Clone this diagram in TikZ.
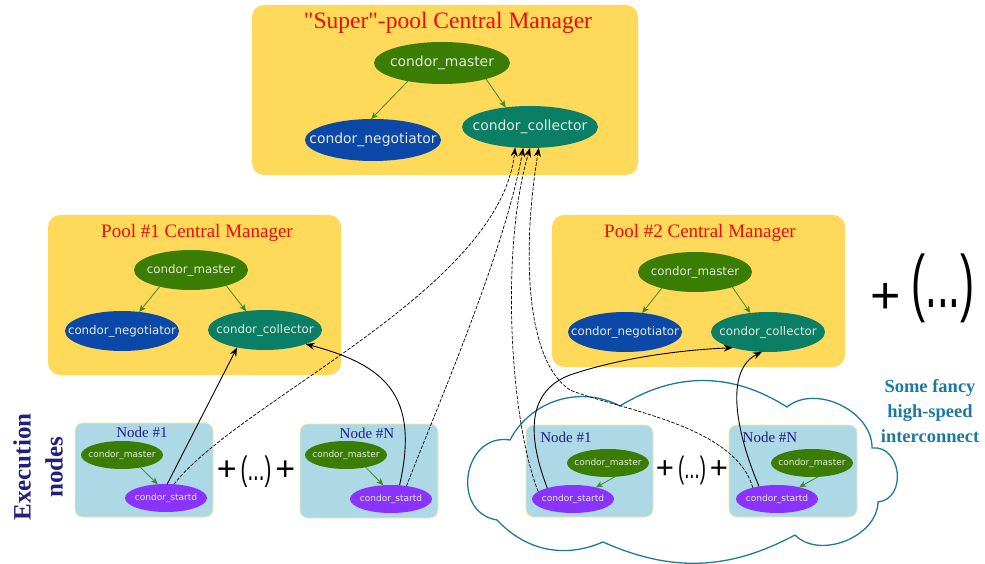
\documentclass[tikz,border=0pt]{standalone}
\usepackage{fontspec}
\setmainfont{Liberation Serif}
\setsansfont{DejaVu Sans}
\newfontfamily\plusfont{Liberation Sans}
\newfontfamily\titlefont{Liberation Serif}[Ligatures=TeXOff]
\usetikzlibrary{shapes.geometric,arrows.meta}

% label of a process ellipse; the ellipse size comes from the style alone
\newcommand\proclbl[1]{\makebox[0pt]{#1}}

\definecolor{poolgold}{RGB}{255,217,90}
\definecolor{execblue}{RGB}{173,216,230}
\definecolor{execrim}{RGB}{238,232,170}
\definecolor{mastergreen}{RGB}{59,125,2}
\definecolor{negblue}{RGB}{11,72,168}
\definecolor{colteal}{RGB}{11,127,102}
\definecolor{startdpurple}{RGB}{138,51,255}
\definecolor{proctext}{RGB}{226,236,226}
\definecolor{flowgreen}{RGB}{60,140,40}
\definecolor{titlered}{RGB}{240,10,10}
\definecolor{nodenavy}{RGB}{30,30,140}
\definecolor{execnavy}{RGB}{32,32,128}
\definecolor{netblue}{RGB}{28,122,162}

\tikzset{
  poolbox/.style={fill=poolgold, draw=none, rounded corners=12pt},
  execbox/.style={fill=execblue, draw=execrim, line width=0.8pt, rounded corners=8pt},
  proc/.style={ellipse, inner sep=0pt, outer sep=0pt, text=proctext},
  bigproc/.style={proc, minimum width=136pt, minimum height=42pt,
    font=\sffamily\fontsize{13.9}{16}\selectfont},
  midproc/.style={proc, minimum width=114pt, minimum height=40pt,
    font=\sffamily\fontsize{11.8}{14}\selectfont},
  smallproc/.style={proc, minimum width=82pt, minimum height=28pt,
    font=\sffamily\fontsize{9}{10}\selectfont},
  master/.style={fill=mastergreen},
  nego/.style={fill=negblue},
  coll/.style={fill=colteal},
  startd/.style={fill=startdpurple},
  flow/.style={draw=flowgreen, line width=0.8pt, -{Stealth[length=7pt,width=6pt,inset=2pt]}},
  link/.style={line width=0.9pt, -{Stealth[length=9pt,width=7pt,inset=3pt]}},
  dlink/.style={link, line width=0.7pt, dash pattern=on 3.5pt off 1.5pt},
  pooltitle/.style={text=titlered, font=\titlefont\fontsize{19}{22}\selectfont},
  nodetitle/.style={text=nodenavy, font=\fontsize{15}{17}\selectfont},
  plusgroup/.style={inner sep=0pt, font=\plusfont\fontsize{34}{36}\selectfont},
  cloudline/.style={draw=netblue, line width=1.3pt},
}

\begin{document}
\begin{tikzpicture}[x=1pt, y=-1pt]
\useasboundingbox (0,0) rectangle (985,564);

% interconnect cloud behind the right-hand execution nodes
\draw[cloudline] (510,440) to[bend left=45] (620,406)
  to[bend left=32] (787,407)
  to[bend left=65] (872,448)
  to[bend left=90, looseness=1.4] (878,502)
  to[bend left=67] (795,535)
  to[bend left=26] (603,542)
  to[bend left=35] (497,520)
  to[bend left=90, looseness=1.5] cycle;

% central manager boxes
\draw[poolbox] (252,5) rectangle (638,175);
\draw[poolbox] (48,215) rectangle (341,375);
\draw[poolbox] (552,215) rectangle (845,367);

% execution node boxes
\draw[execbox] (75,423) rectangle (213,517);
\draw[execbox] (300,424) rectangle (438,518);
\draw[execbox] (526,425) rectangle (653,517);
\draw[execbox] (729,425) rectangle (857,517);

% "super"-pool central manager
\node[pooltitle, font=\titlefont\fontsize{23.5}{26}\selectfont] (t0) at (448,23) {"Super"-pool Central Manager};
\node[bigproc, master] (sm) at (442,63) {\proclbl{condor\_master}};
\node[bigproc, nego] (sn) at (373,140) {\proclbl{condor\_negotiator}};
\node[bigproc, coll] (sc) at (530,127) {\proclbl{condor\_collector}};
\draw[flow] (sm.-152) -- (sn.95);
\draw[flow] (sm.-20) -- (sc.141);

% pool #1 central manager
\node[pooltitle] (t1) at (197,233) {Pool \#1 Central Manager};
\node[midproc, master] (m1) at (191,270) {\proclbl{condor\_master}};
\node[midproc, nego] (n1) at (122,331) {\proclbl{condor\_negotiator}};
\node[midproc, coll] (c1) at (265,330) {\proclbl{condor\_collector}};
\draw[flow] (m1.-152) -- (n1.48);
\draw[flow] (m1.-24) -- (c1.135);

% pool #2 central manager
\node[pooltitle] (t2) at (700,233) {Pool \#2 Central Manager};
\node[midproc, master] (m2) at (695,272) {\proclbl{condor\_master}};
\node[midproc, nego] (n2) at (625,332) {\proclbl{condor\_negotiator}};
\node[midproc, coll] (c2) at (768,332) {\proclbl{condor\_collector}};
\draw[flow] (m2.-154) -- (n2.48);
\draw[flow] (m2.-22) -- (c2.133);

% more pools
\node[inner sep=0pt, font=\plusfont\fontsize{52}{54}\selectfont] (pplus) at (886,298) {+};
\node[inner sep=0pt, font=\plusfont\fontsize{74}{76}\selectfont] (pmore) at (943,288) {\scalebox{0.57}[1]{(...)}};

% execution nodes label
\node[rotate=90, align=center, text=execnavy,
  font=\bfseries\fontsize{25}{32}\selectfont] (execlbl) at (38,467) {Execution\\nodes};

% execution nodes of pool #1
\node[nodetitle] (h1) at (142,432) {Node \#1};
\node[smallproc, master] (a1) at (122,455) {\proclbl{condor\_master}};
\node[smallproc, startd] (d1) at (166,498) {\proclbl{condor\_startd}};
\draw[flow] (a1.-34) -- (d1.121);

\node[plusgroup] (g1) at (256,472) {+\hspace{4pt}\scalebox{0.6}[1]{(...)}\hspace{4pt}+};

\node[nodetitle] (hN) at (367,433) {Node \#N};
\node[smallproc, master] (aN) at (346,455) {\proclbl{condor\_master}};
\node[smallproc, startd] (dN) at (391,499) {\proclbl{condor\_startd}};
\draw[flow] (aN.-32) -- (dN.119);

% execution nodes of pool #2, on the fast interconnect
\node[nodetitle] (h2) at (566,437) {Node \#1};
\node[smallproc, master] (b1) at (608,463) {\proclbl{condor\_master}};
\node[smallproc, startd] (r1) at (573,499) {\proclbl{condor\_startd}};
\draw[flow] (b1.-63) -- (r1.27);

\node[plusgroup, font=\plusfont\fontsize{31}{33}\selectfont] (g2) at (692,470) {+\hspace{4pt}\scalebox{0.6}[1]{(...)}\hspace{4pt}+};

\node[nodetitle] (h3) at (770,437) {Node \#N};
\node[smallproc, master] (bN) at (812,463) {\proclbl{condor\_master}};
\node[smallproc, startd] (rN) at (777,499) {\proclbl{condor\_startd}};
\draw[flow] (bN.-67) -- (rN.28);

\node[align=center, text=netblue, font=\bfseries\fontsize{18.5}{25}\selectfont] (netlbl) at (930,411)
  {Some fancy\\high-speed\\interconnect};

% startd -> local collector (solid)
\draw[link] (d1.85) -- (c1.-148);
\draw[link] (dN.58) .. controls (420,395) and (385,365) .. (c1.-19);
\draw[link] (r1.157) .. controls (525,430) and (530,390) .. (570,375)
  .. controls (620,358) and (680,350) .. (c2.-156);
\draw[link] (rN.145) .. controls (735,430) and (725,370) .. (c2.-107);

% startd -> super collector (dashed)
\draw[dlink] (d1.60) .. controls (240,400) and (500,290) .. (sc.-126);
\draw[dlink] (dN.40) .. controls (440,400) and (505,250) .. (sc.-108);
\draw[dlink] (r1.168) .. controls (510,420) and (500,250) .. (sc.-90);
\draw[dlink] (rN.155) .. controls (735,425) and (620,410) .. (570,390)
  .. controls (525,360) and (522,250) .. (sc.-67);
\end{tikzpicture}
\end{document}
